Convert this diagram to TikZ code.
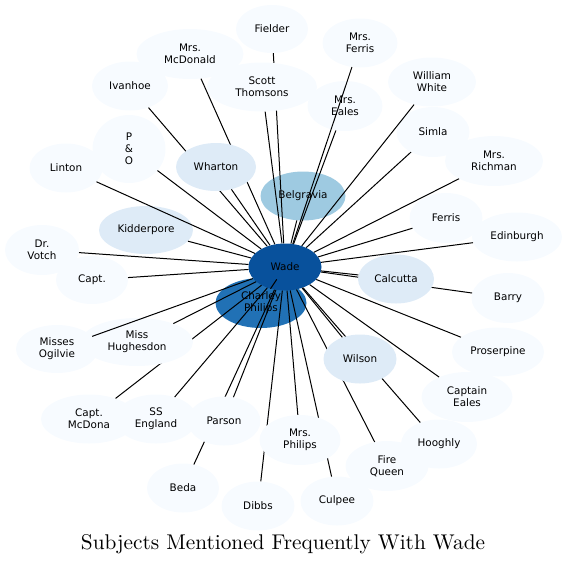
\documentclass[tikz,border=0pt]{standalone}
\usepackage{fontspec}
\usepackage{tikz}
\usetikzlibrary{shapes.geometric}
\newfontfamily\dejavu{DejaVu Sans}
\newfontfamily\titlefont{lmroman10-regular}[Extension=.otf]

\definecolor{blue1}{HTML}{F7FBFF}
\definecolor{blue2}{HTML}{DEEBF7}
\definecolor{blue4}{HTML}{9ECAE1}
\definecolor{blue7}{HTML}{2171B5}
\definecolor{blue8}{HTML}{08519C}

\tikzset{
  subj/.style={ellipse, fill=blue1, inner sep=0pt, minimum width=73pt, minimum height=49pt,
    align=center, font=\dejavu\fontsize{10.4}{12}\selectfont},
  link/.style={line width=1pt}
}

\begin{document}
\begin{tikzpicture}[x=1pt, y=-1pt]
\useasboundingbox (0,0) rectangle (567,566);
% the nodes that the links run over
\node[subj, fill=blue7, minimum width=91pt, minimum height=50pt] (charley) at (261,303) {Charley\\Philips};
\node[subj, fill=blue4, minimum width=85pt] (belgravia) at (303,196) {Belgravia};
\node[subj, fill=blue8, minimum height=47pt] (wade) at (285,267) {Wade};
\node[subj, minimum width=72pt, minimum height=48pt] (fielder) at (272,29) {Fielder};
\node[subj, minimum width=107pt, minimum height=50pt] (mcdonald) at (190,54) {Mrs.\\McDonald};
\node[subj, minimum width=75pt] (mrsferris) at (360,43) {Mrs.\\Ferris};
\node[subj, minimum width=76pt] (ivanhoe) at (130,86) {Ivanhoe};
\node[subj, minimum width=88pt] (williamwhite) at (432,82) {William\\White};
\node[subj, minimum width=75pt, minimum height=50pt] (mrseales) at (345,106) {Mrs.\\Eales};
\node[subj, minimum height=50pt] (simla) at (433,132) {Simla};
\node[subj, minimum height=68pt] (pando) at (129,149) {P\\\&\\O};
\node[subj] (linton) at (66,168) {Linton};
\node[subj, minimum width=98pt, minimum height=50pt] (richman) at (494,161) {Mrs.\\Richman};
\node[subj, minimum height=50pt] (ferris) at (446,218) {Ferris};
\node[subj, minimum width=90pt] (edinburgh) at (517,237) {Edinburgh};
\node[subj, fill=blue2, minimum width=94pt, minimum height=48pt] (kidderpore) at (146,230) {Kidderpore};
\node[subj, minimum width=74pt, minimum height=50pt] (votch) at (42,250) {Dr.\\Votch};
\node[subj, minimum width=72pt, minimum height=48pt] (capt) at (92,280) {Capt.};
\node[subj, minimum height=50pt] (barry) at (508,298) {Barry};
\node[subj, minimum width=82pt, minimum height=48pt] (ogilvie) at (57,349) {Misses\\Ogilvie};
\node[subj, minimum width=92pt] (proserpine) at (498,352) {Proserpine};
\node[subj, minimum width=91pt, minimum height=50pt] (captaineales) at (467,397) {Captain\\Eales};
\node[subj, minimum width=96pt] (mcdona) at (89,419) {Capt.\\McDona};
\node[subj, minimum width=82pt] (ssengland) at (156,419) {SS\\England};
\node[subj, minimum width=83pt, minimum height=50pt] (firequeen) at (387,466) {Fire\\Queen};
\node[subj, minimum width=76pt] (hooghly) at (439,444) {Hooghly};
\node[subj, minimum width=72pt] (beda) at (183,488) {Beda};
\node[subj] (dibbs) at (258,506) {Dibbs};
\node[subj] (culpee) at (337,501) {Culpee};

\draw[link] (wade) -- (mcdona);
\node[subj, minimum width=112pt, minimum height=48pt] (hughesdon) at (137,342) {Miss\\Hughesdon};

\foreach \s in {charley, belgravia, fielder, mcdonald, mrsferris, ivanhoe, williamwhite, mrseales,
  simla, pando, linton, richman, ferris, edinburgh, kidderpore, votch, capt, barry, ogilvie,
  proserpine, captaineales, ssengland, firequeen, hooghly, beda, dibbs, culpee, hughesdon}
  \draw[link] (wade) -- (\s);

% the nodes that hide the links behind them
\node[subj, fill=blue2, minimum width=80pt, minimum height=48pt] (wharton) at (216,167) {Wharton};
\node[subj, minimum width=110pt] (scott) at (262,87) {Scott\\Thomsons};
\node[subj, fill=blue2, minimum width=76pt] (calcutta) at (396,279) {Calcutta};
\node[subj, fill=blue2] (wilson) at (360,359) {Wilson};
\node[subj] (parson) at (224,421) {Parson};
\node[subj, minimum width=81pt, minimum height=50pt] (mrsphilips) at (300,440) {Mrs.\\Philips};

\foreach \s in {wharton, scott, calcutta, wilson, parson, mrsphilips}
  \draw[link] (wade) -- (\s);

\node[font=\titlefont\fontsize{21.3}{25}\selectfont] (title) at (283,544) {Subjects Mentioned Frequently With Wade};
\end{tikzpicture}
\end{document}
